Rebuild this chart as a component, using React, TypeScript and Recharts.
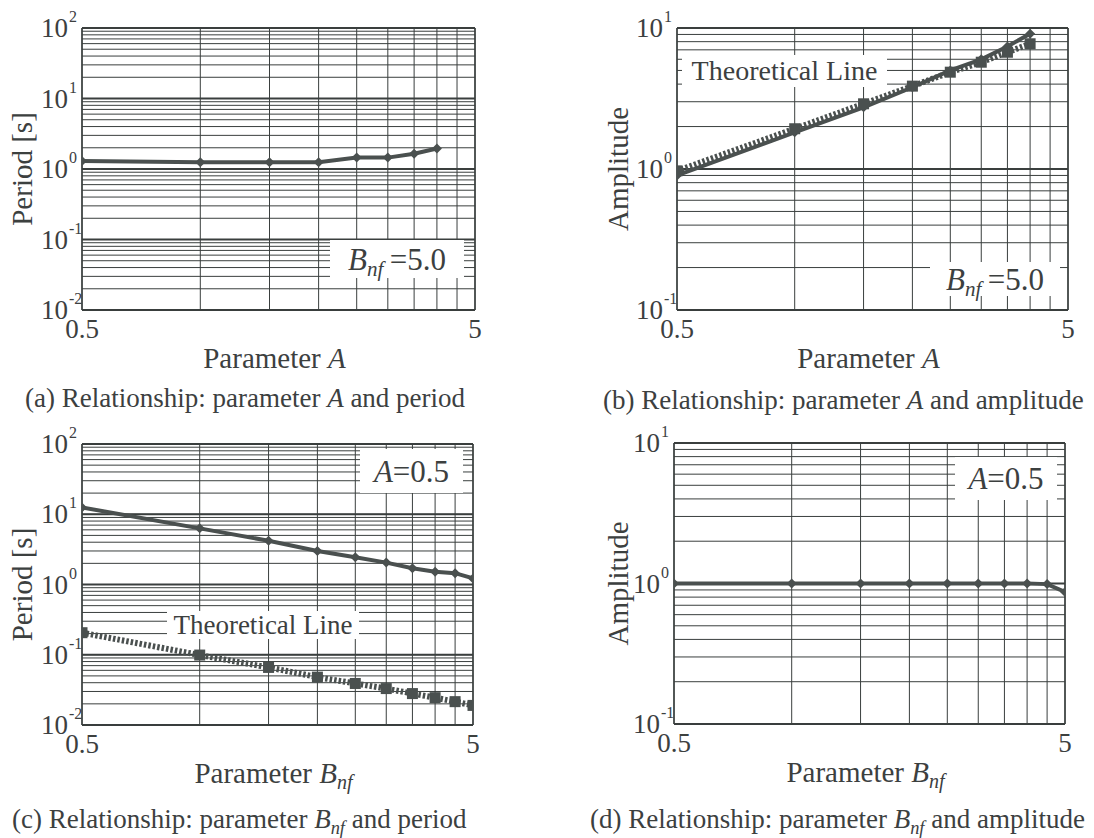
import React from "react";
import { LineChart, Line, XAxis, YAxis, CartesianGrid, ReferenceLine } from "recharts";

const paramA = [0.5, 1, 1.5, 2, 2.5, 3, 3.5, 4];
const periodVsA = [1.3, 1.25, 1.25, 1.25, 1.45, 1.45, 1.65, 1.95];
const amplitudeVsA = [0.9, 1.82, 2.74, 3.8, 5.0, 6.0, 7.4, 9.1];
const amplitudeTheoryVsA = [0.97, 1.93, 2.9, 3.87, 4.86, 5.72, 6.73, 7.73];

const paramB = [0.5, 1, 1.5, 2, 2.5, 3, 3.5, 4, 4.5, 5];
const periodVsB = [12.5, 6.3, 4.2, 3.0, 2.45, 2.05, 1.7, 1.52, 1.45, 1.22];
const periodTheoryVsB = [0.206, 0.099, 0.066, 0.048, 0.039, 0.033, 0.028, 0.0245, 0.0215, 0.019];
const amplitudeVsB = [1, 1, 1, 1, 1, 1, 1, 1, 0.99, 0.87];

const xTicks = [0.5, 1, 1.5, 2, 2.5, 3, 3.5, 4, 4.5, 5];
const xTickLabels = [0.5, 5];
const periodDecades = [-2, -1, 0, 1, 2];
const amplitudeDecades = [-1, 0, 1];

const ink = "#4a504f";
const gridInk = "#3a3f3e";
const textInk = "#3c403f";
const font = '"Liberation Serif", "Times New Roman", serif';

const logTicks = (decades: number[]) => {
  const out: number[] = [];
  decades.forEach((d, i) => {
    if (i === decades.length - 1) {
      out.push(Number(Math.pow(10, d).toPrecision(6)));
      return;
    }
    for (let m = 1; m <= 9; m++) out.push(Number((m * Math.pow(10, d)).toPrecision(6)));
  });
  return out;
};

const Diamond = (props: any) => {
  const { cx, cy, index } = props;
  if (cx == null || cy == null) return <g key={`dm${index}`} />;
  const r = 5;
  return (
    <path
      key={`dm${index}`}
      d={`M${cx},${cy - r}L${cx + r},${cy}L${cx},${cy + r}L${cx - r},${cy}Z`}
      fill={ink}
    />
  );
};

const Square = (props: any) => {
  const { cx, cy, index } = props;
  if (cx == null || cy == null) return <g key={`sq${index}`} />;
  const s = 11;
  return <rect key={`sq${index}`} x={cx - s / 2} y={cy - s / 2} width={s} height={s} fill={ink} />;
};

const YTick = (props: any) => {
  const { x, y, payload } = props;
  const lg = Math.log10(payload.value);
  const e = Math.round(lg);
  if (Math.abs(lg - e) > 1e-6) return <g />;
  return (
    <g fontFamily={font} fill={textInk}>
      <text x={x - 14} y={y + 9} textAnchor="end" fontSize={27}>10</text>
      <text x={x - 13} y={y - 6} textAnchor="start" fontSize={16}>{e}</text>
    </g>
  );
};

const XTick = (props: any) => {
  const { x, y, payload } = props;
  if (!xTickLabels.includes(payload.value)) return <g />;
  return (
    <text x={x} y={y + 28} textAnchor="middle" fontSize={27} fontFamily={font} fill={textInk}>
      {payload.value}
    </text>
  );
};

const Bnf = ({ size }: { size: number }) => (
  <>
    <i>B</i>
    <i style={{ fontSize: size * 0.68, position: "relative", top: size * 0.22 }}>nf</i>
  </>
);

type SeriesDef = { key: string; values: number[]; theory?: boolean };

const Panel = ({ left, top, plotW, plotH, xs, series, decades, yTitle, yTitleX, xTitleB }: any) => {
  const rows = xs.map((x: number, i: number) => {
    const r: any = { x };
    series.forEach((s: SeriesDef) => (r[s.key] = s.values[i]));
    return r;
  });
  const yTicks = logTicks(decades);
  const yDomain = [Math.pow(10, decades[0]), Math.pow(10, decades[decades.length - 1])];
  const width = 82 + plotW + 30;
  const height = 28 + plotH + 75;

  const xTitle = (p: any) => {
    const vb = p.viewBox;
    return (
      <text x={vb.x + vb.width / 2 - 4} y={vb.y + 58} textAnchor="middle" fontSize={29} fontFamily={font} fill={textInk}>
        Parameter{" "}
        {xTitleB ? (
          <>
            <tspan fontStyle="italic">B</tspan>
            <tspan fontStyle="italic" fontSize={20} dy={6}>nf</tspan>
          </>
        ) : (
          <tspan fontStyle="italic">A</tspan>
        )}
      </text>
    );
  };
  const yTitleEl = (p: any) => {
    const vb = p.viewBox;
    const cy = vb.y + vb.height / 2;
    return (
      <text
        x={yTitleX}
        y={cy}
        transform={`rotate(-90 ${yTitleX} ${cy})`}
        textAnchor="middle"
        dominantBaseline="central"
        fontSize={29}
        fontFamily={font}
        fill={textInk}
      >
        {yTitle}
      </text>
    );
  };

  return (
    <div style={{ position: "absolute", left, top }}>
      <LineChart width={width} height={height} data={rows} margin={{ top: 28, right: 30, left: 0, bottom: 0 }}>
        <CartesianGrid stroke={gridInk} strokeWidth={1} />
        <XAxis
          dataKey="x"
          type="number"
          scale="log"
          domain={[0.5, 5]}
          allowDataOverflow
          ticks={xTicks}
          interval={0}
          tick={XTick}
          tickLine={false}
          tickSize={0}
          tickMargin={0}
          axisLine={{ stroke: gridInk, strokeWidth: 1.5 }}
          height={75}
          label={xTitle}
        />
        <YAxis
          type="number"
          scale="log"
          domain={yDomain}
          allowDataOverflow
          ticks={yTicks}
          interval={0}
          tick={YTick}
          tickLine={false}
          tickSize={0}
          tickMargin={0}
          axisLine={{ stroke: gridInk, strokeWidth: 1.5 }}
          width={82}
          label={yTitleEl}
        />
        {decades.map((d: number) => (
          <ReferenceLine key={d} y={Math.pow(10, d)} stroke={gridInk} strokeWidth={2} />
        ))}
        <ReferenceLine x={5} stroke={gridInk} strokeWidth={1.5} />
        {series.map((s: SeriesDef) => (
          <Line
            key={s.key}
            dataKey={s.key}
            type="linear"
            stroke={ink}
            strokeWidth={s.theory ? 6 : 4}
            strokeDasharray={s.theory ? "2.5 2" : undefined}
            dot={s.theory ? Square : Diamond}
            activeDot={false}
            isAnimationActive={false}
          />
        ))}
      </LineChart>
    </div>
  );
};

const Box = ({ left, top, width, height, size, children }: any) => (
  <div
    style={{
      position: "absolute",
      left,
      top,
      width,
      height,
      background: "#fff",
      fontFamily: font,
      fontSize: size,
      color: textInk,
      display: "flex",
      alignItems: "center",
      justifyContent: "center",
      whiteSpace: "nowrap",
      lineHeight: 1,
    }}
  >
    <span>{children}</span>
  </div>
);

const Caption = ({ left, top, children }: any) => (
  <div
    style={{
      position: "absolute",
      left,
      top,
      fontFamily: font,
      fontSize: 27,
      color: textInk,
      whiteSpace: "nowrap",
      lineHeight: 1,
    }}
  >
    {children}
  </div>
);

export default function App() {
  return (
    <div style={{ position: "absolute", left: 0, top: 0, width: 1094, height: 838, background: "#fff", overflow: "hidden" }}>
      <Panel
        left={0}
        top={0}
        plotW={393}
        plotH={282}
        xs={paramA}
        series={[{ key: "period", values: periodVsA }]}
        decades={periodDecades}
        yTitle="Period [s]"
        yTitleX={22}
      />
      <Panel
        left={595}
        top={0}
        plotW={391}
        plotH={282}
        xs={paramA}
        series={[
          { key: "amplitude", values: amplitudeVsA },
          { key: "theory", values: amplitudeTheoryVsA, theory: true },
        ]}
        decades={amplitudeDecades}
        yTitle="Amplitude"
        yTitleX={23}
      />
      <Panel
        left={0}
        top={416}
        plotW={391}
        plotH={281}
        xs={paramB}
        series={[
          { key: "period", values: periodVsB },
          { key: "theory", values: periodTheoryVsB, theory: true },
        ]}
        decades={periodDecades}
        yTitle="Period [s]"
        yTitleX={22}
        xTitleB
      />
      <Panel
        left={592}
        top={415}
        plotW={391}
        plotH={281}
        xs={paramB}
        series={[{ key: "amplitude", values: amplitudeVsB }]}
        decades={amplitudeDecades}
        yTitle="Amplitude"
        yTitleX={26}
        xTitleB
      />

      <Box left={330} top={240} width={134} height={38} size={31}>
        <Bnf size={31} />
        &thinsp;=5.0
      </Box>
      <Box left={930} top={262} width={130} height={34} size={31}>
        <Bnf size={31} />
        &thinsp;=5.0
      </Box>
      <Box left={682} top={55} width={205} height={32} size={28}>
        Theoretical Line
      </Box>
      <Box left={167} top={611} width={192} height={28} size={27}>
        Theoretical Line
      </Box>
      <Box left={360} top={449} width={103} height={44} size={31}>
        <i>A</i>=0.5
      </Box>
      <Box left={955} top={457} width={102} height={43} size={31}>
        <i>A</i>=0.5
      </Box>

      <Caption left={25} top={385}>
        (a) Relationship: parameter <i>A</i> and period
      </Caption>
      <Caption left={603} top={387}>
        (b) Relationship: parameter <i>A</i> and amplitude
      </Caption>
      <Caption left={12} top={806}>
        (c) Relationship: parameter <Bnf size={27} /> and period
      </Caption>
      <Caption left={590} top={806}>
        (d) Relationship: parameter <Bnf size={27} /> and amplitude
      </Caption>
    </div>
  );
}
